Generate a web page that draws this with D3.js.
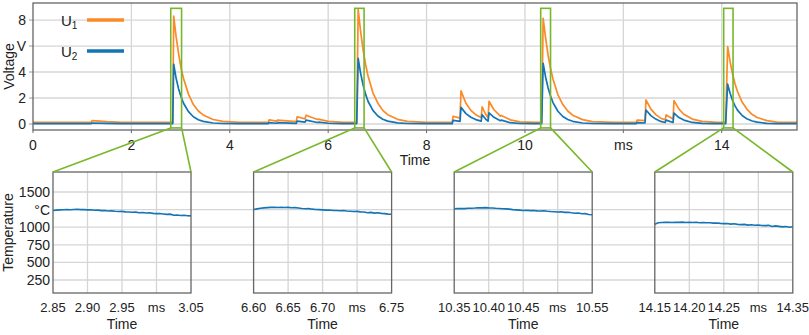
<!DOCTYPE html>
<html>
<head>
<meta charset="utf-8">
<script src="https://cdn.jsdelivr.net/npm/d3@7"></script>
<style>
body { margin: 0; background: #fff; }
text { font-family: "Liberation Sans", Arial, sans-serif; font-size: 14px; fill: #222; }
text.small { font-size: 13px; }
</style>
</head>
<body>
<svg width="809" height="335"></svg>
<script>
// Voltage traces (ms, V)
const time = [
  0, 1.18, 1.2, 1.5, 1.8, 2.82,
  2.84, 2.86, 2.91, 2.96, 3.01, 3.06, 3.16, 3.26, 3.36, 3.46, 3.66, 3.86, 4.2,
  4.78, 4.8, 4.95, 4.97, 5.35, 5.37, 5.53, 5.55, 5.78, 5.8, 6.0, 6.3, 6.57,
  6.58, 6.61, 6.66, 6.71, 6.76, 6.81, 6.91, 7.01, 7.11, 7.21, 7.41, 7.61, 8.0,
  8.52, 8.54, 8.68, 8.70, 8.8, 8.9, 9.0, 9.11, 9.13, 9.2, 9.25, 9.27, 9.37, 9.5, 9.52, 9.7, 9.9, 10.2,
  10.34, 10.37, 10.42, 10.47, 10.52, 10.57, 10.67, 10.77, 10.87, 10.97, 11.17, 11.37, 11.8,
  12.26, 12.28, 12.44, 12.46, 12.56, 12.66, 12.76, 12.85, 12.87, 13.01, 13.03, 13.13, 13.23, 13.4, 13.6, 13.9,
  14.08, 14.12, 14.17, 14.22, 14.27, 14.32, 14.42, 14.52, 14.62, 14.72, 14.92, 15.12, 15.53
];
const u1 = [
  0.12, 0.12, 0.26, 0.18, 0.13, 0.12,
  0.12, 8.3, 6.7, 5.4, 4.3, 3.5, 2.3, 1.5, 1.0, 0.7, 0.35, 0.2, 0.12,
  0.12, 0.32, 0.22, 0.3, 0.18, 0.56, 0.4, 0.68, 0.35, 0.38, 0.2, 0.13, 0.12,
  0.12, 8.8, 7.1, 5.7, 4.6, 3.7, 2.4, 1.6, 1.05, 0.72, 0.36, 0.2, 0.12,
  0.12, 0.6, 0.45, 2.55, 1.6, 1.05, 0.72, 0.5, 1.33, 0.75, 0.48, 1.75, 1.1, 0.6, 0.66, 0.32, 0.17, 0.12,
  0.12, 8.13, 6.6, 5.3, 4.3, 3.45, 2.25, 1.5, 1.0, 0.68, 0.34, 0.19, 0.12,
  0.12, 0.3, 0.26, 1.85, 1.15, 0.72, 0.45, 0.32, 0.7, 0.38, 1.8, 1.15, 0.75, 0.38, 0.2, 0.12,
  0.12, 5.95, 4.8, 3.85, 3.1, 2.5, 1.65, 1.1, 0.73, 0.5, 0.26, 0.15, 0.12
];
const u2 = [
  0.03, 0.03, 0.08, 0.05, 0.03, 0.03,
  0.03, 4.6, 3.5, 2.7, 2.1, 1.6, 0.95, 0.56, 0.33, 0.2, 0.08, 0.04, 0.03,
  0.03, 0.1, 0.06, 0.1, 0.05, 0.22, 0.14, 0.3, 0.12, 0.14, 0.06, 0.03, 0.03,
  0.03, 5.05, 3.9, 3.0, 2.3, 1.75, 1.05, 0.62, 0.37, 0.22, 0.09, 0.04, 0.03,
  0.03, 0.28, 0.2, 1.28, 0.8, 0.52, 0.34, 0.22, 0.72, 0.38, 0.22, 0.86, 0.52, 0.26, 0.3, 0.1, 0.04, 0.03,
  0.03, 4.67, 3.6, 2.78, 2.15, 1.65, 0.98, 0.58, 0.35, 0.21, 0.08, 0.04, 0.03,
  0.03, 0.1, 0.08, 1.08, 0.65, 0.38, 0.2, 0.12, 0.3, 0.12, 0.84, 0.5, 0.3, 0.12, 0.05, 0.03,
  0.03, 3.07, 2.36, 1.81, 1.4, 1.07, 0.64, 0.38, 0.23, 0.14, 0.05, 0.03, 0.03
];

const timeTicks = [0, 2, 4, 6, 8, 10, 12, 14];
const timeTickLabels = ['0', '2', '4', '6', '8', '10', 'ms', '14'];
const voltTicks = [0, 2, 4, 6, 8];
const voltTickLabels = ['0', '2', '4', 'V', '8'];

// Zoom windows (ms)
const boxStart = [2.80, 6.54, 10.32, 14.04];
const boxEnd = [3.02, 6.73, 10.52, 14.23];
const zoomStart = [2.85, 6.60, 10.35, 14.15];
const zoomEnd = [3.05, 6.80, 10.55, 14.35];
const zoomTickLabels = [
  ['2.85', '2.90', '2.95', 'ms', '3.05'],
  ['6.60', '6.65', '6.70', 'ms', '6.75'],
  ['10.35', '10.40', '10.45', 'ms', '10.55'],
  ['14.15', '14.20', '14.25', 'ms', '14.35']
];
const tempTicks = [250, 500, 750, 1000, 1250, 1500];
const tempTickLabels = ['250', '500', '750', '1000', '°C', '1500'];
const tempStep = 0.005;

// Temperature samples, one every tempStep ms from zoomStart
const temp1 = [
  1238, 1242, 1246, 1248, 1250, 1247, 1252, 1255, 1250, 1249,
  1246, 1248, 1240, 1242, 1236, 1238, 1230, 1232, 1226, 1222,
  1224, 1218, 1216, 1212, 1214, 1206, 1208, 1202, 1204, 1196,
  1192, 1194, 1188, 1182, 1185, 1170, 1172, 1166, 1170, 1162, 1160
];
const temp2 = [
  1250, 1260, 1268, 1274, 1278, 1282, 1284, 1280, 1283, 1280,
  1281, 1276, 1278, 1272, 1266, 1262, 1264, 1256, 1252, 1250,
  1246, 1242, 1244, 1238, 1236, 1234, 1238, 1230, 1226, 1222,
  1224, 1218, 1216, 1206, 1210, 1200, 1204, 1196, 1192, 1186, 1184
];
const temp3 = [
  1262, 1264, 1266, 1264, 1268, 1270, 1272, 1276, 1274, 1278,
  1274, 1272, 1268, 1266, 1262, 1260, 1256, 1250, 1246, 1242,
  1238, 1240, 1236, 1238, 1232, 1230, 1234, 1226, 1222, 1220,
  1216, 1220, 1210, 1212, 1204, 1198, 1202, 1190, 1192, 1180, 1176
];
const temp4 = [
  1042, 1062, 1066, 1070, 1068, 1066, 1070, 1068, 1072, 1066,
  1068, 1066, 1070, 1064, 1066, 1062, 1064, 1058, 1060, 1054,
  1050, 1052, 1044, 1048, 1040, 1036, 1040, 1030, 1034, 1028,
  1030, 1024, 1022, 1026, 1010, 1018, 1012, 1004, 1010, 1000, 1006
];
const temps = [temp1, temp2, temp3, temp4];

const orange = '#fb8a27';
const blue = '#1374b6';
const green = '#77b82a';
const gridCol = '#d6d6d6';
const borderCol = '#666';

const svg = d3.select('svg');

// ---------- top chart ----------
const main = { l: 33, r: 797, t: 3, b: 130 };
const x = d3.scaleLinear().domain([0, 15.53]).range([main.l, main.r]);
const y = d3.scaleLinear().domain([-0.46, 9.31]).range([main.b, main.t]);

const g = svg.append('g');

g.selectAll('.vgrid').data(timeTicks.slice(1)).enter().append('line')
  .attr('x1', d => x(d)).attr('x2', d => x(d))
  .attr('y1', main.t).attr('y2', main.b)
  .attr('stroke', gridCol).attr('stroke-width', 1.3);
g.selectAll('.hgrid').data(voltTicks).enter().append('line')
  .attr('x1', main.l).attr('x2', main.r)
  .attr('y1', d => y(d)).attr('y2', d => y(d))
  .attr('stroke', gridCol).attr('stroke-width', 1.3);

// ticks + labels
g.selectAll('.xt').data(timeTicks).enter().append('line')
  .attr('x1', d => x(d)).attr('x2', d => x(d))
  .attr('y1', main.b).attr('y2', main.b + 3)
  .attr('stroke', borderCol);
g.selectAll('.xl').data(timeTicks).enter().append('text')
  .attr('x', d => x(d)).attr('y', main.b + 20)
  .attr('text-anchor', 'middle')
  .text((d, i) => timeTickLabels[i]);
g.selectAll('.yt').data(voltTicks).enter().append('line')
  .attr('x1', main.l - 4).attr('x2', main.l)
  .attr('y1', d => y(d)).attr('y2', d => y(d))
  .attr('stroke', '#999');
g.selectAll('.yl').data(voltTicks).enter().append('text')
  .attr('x', main.l - 7).attr('y', d => y(d) + 5)
  .attr('text-anchor', 'end')
  .text((d, i) => voltTickLabels[i]);

g.append('text').attr('transform', `translate(14,${(main.t + main.b) / 2}) rotate(-90)`)
  .attr('text-anchor', 'middle').text('Voltage');
g.append('text').attr('x', 415).attr('y', 165).attr('text-anchor', 'middle').text('Time');

const line = d3.line().x(d => x(d[0])).y(d => y(d[1]));
const s1 = time.map((t, i) => [t, u1[i]]);
const s2 = time.map((t, i) => [t, u2[i]]);
g.append('path').datum(s1).attr('d', line)
  .attr('fill', 'none').attr('stroke', orange).attr('stroke-width', 1.7).attr('stroke-linejoin', 'round');
g.append('path').datum(s2).attr('d', line)
  .attr('fill', 'none').attr('stroke', blue).attr('stroke-width', 1.7).attr('stroke-linejoin', 'round');

g.append('rect').attr('x', main.l).attr('y', main.t)
  .attr('width', main.r - main.l).attr('height', main.b - main.t)
  .attr('fill', 'none').attr('stroke', borderCol).attr('stroke-width', 1.3);

// legend
const legend = [{ name: 'U', sub: '1', color: orange }, { name: 'U', sub: '2', color: blue }];
legend.forEach((d, i) => {
  const ly = 20 + i * 31;
  const t = g.append('text').attr('x', 61).attr('y', ly + 5.5).style('font-size', '15px');
  t.append('tspan').text(d.name);
  t.append('tspan').attr('dy', 3).style('font-size', '10px').text(d.sub);
  g.append('line').attr('x1', 87).attr('x2', 124).attr('y1', ly).attr('y2', ly)
    .attr('stroke', d.color).attr('stroke-width', 3.5);
});

// ---------- zoom panels ----------
const pan = { t: 172, b: 293, w: 138 };
const panelLeft = i => 53 + i * 200.6;
const yT = d3.scaleLinear().domain([65, 1784]).range([pan.b, pan.t]);

// horizontal grid across all panels
g.selectAll('.tgrid').data(tempTicks).enter().append('line')
  .attr('x1', panelLeft(0)).attr('x2', panelLeft(3) + pan.w)
  .attr('y1', d => yT(d)).attr('y2', d => yT(d))
  .attr('stroke', gridCol).attr('stroke-width', 1.3);

g.selectAll('.tyl').data(tempTicks).enter().append('text')
  .attr('x', panelLeft(0) - 3).attr('y', d => yT(d) + 5)
  .attr('text-anchor', 'end')
  .text((d, i) => tempTickLabels[i]);
g.append('text').attr('transform', `translate(13,${(pan.t + pan.b) / 2}) rotate(-90)`)
  .attr('text-anchor', 'middle').text('Temperature');

temps.forEach((vals, i) => {
  const L = panelLeft(i), R = L + pan.w;
  const xz = d3.scaleLinear().domain([zoomStart[i], zoomEnd[i]]).range([L, R]);
  const ticks = zoomTickLabels[i].map((lab, k) => zoomStart[i] + k * (zoomEnd[i] - zoomStart[i]) / 4);
  const pg = svg.append('g');

  pg.selectAll('line.vg').data(ticks.slice(1, 4)).enter().append('line')
    .attr('x1', d => xz(d)).attr('x2', d => xz(d))
    .attr('y1', pan.t).attr('y2', pan.b)
    .attr('stroke', gridCol).attr('stroke-width', 1.3);
  pg.selectAll('text.tl').data(ticks).enter().append('text')
    .attr('class', 'small')
    .attr('x', d => xz(d)).attr('y', pan.b + 19)
    .attr('text-anchor', 'middle')
    .text((d, k) => zoomTickLabels[i][k]);
  pg.append('text').attr('x', (L + R) / 2).attr('y', pan.b + 36)
    .attr('text-anchor', 'middle').text('Time');

  const pts = vals.map((v, k) => [zoomStart[i] + k * tempStep, v]);
  pg.append('path').datum(pts)
    .attr('d', d3.line().x(d => xz(d[0])).y(d => yT(d[1])))
    .attr('fill', 'none').attr('stroke', blue).attr('stroke-width', 1.6);

  pg.append('rect').attr('x', L).attr('y', pan.t).attr('width', pan.w).attr('height', pan.b - pan.t)
    .attr('fill', 'none').attr('stroke', borderCol).attr('stroke-width', 1.3);

  // zoom box on the top chart and connectors
  const bx0 = x(boxStart[i]), bx1 = x(boxEnd[i]);
  pg.append('rect').attr('x', bx0).attr('y', y(8.9))
    .attr('width', bx1 - bx0).attr('height', y(-0.3) - y(8.9))
    .attr('fill', 'none').attr('stroke', green).attr('stroke-width', 1.6);
  pg.append('line').attr('x1', bx0).attr('y1', y(-0.3)).attr('x2', L).attr('y2', pan.t)
    .attr('stroke', green).attr('stroke-width', 1.6);
  pg.append('line').attr('x1', bx1).attr('y1', y(-0.3)).attr('x2', R).attr('y2', pan.t)
    .attr('stroke', green).attr('stroke-width', 1.6);
});
</script>
</body>
</html>
